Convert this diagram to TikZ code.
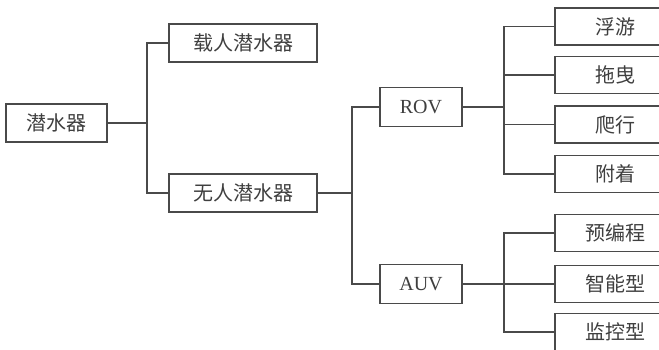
\documentclass[tikz,border=0pt]{standalone}
\usepackage{fontspec}
\setmainfont{Liberation Serif}
\newfontfamily\cjk{Noto Sans CJK SC}
\usetikzlibrary{positioning}
\definecolor{ink}{HTML}{4A4A4A}

\begin{document}
\begin{tikzpicture}[x=1pt,y=-1pt,
  box/.style={draw=ink,line width=1.6pt,text=ink!85!black,inner sep=0pt,minimum height=38pt,font=\cjk\fontsize{20}{23}\selectfont},
  ltr/.style={box,font=\fontsize{20}{23}\selectfont},
  leaf/.style={box,minimum width=120pt,minimum height=37pt},
  link/.style={draw=ink,line width=1.2pt}]
\useasboundingbox(0,0)rectangle(659,350);\clip(0,0)rectangle(659,350);
% left part
\node[box,minimum width=101pt](root)at(56.5,123){潜水器};
\node[box,minimum width=148pt](manned)at(243,43){载人潜水器};
\node[box,minimum width=148pt](unmanned)at(243,193){无人潜水器};
\coordinate(j1)at(147,123);
\draw[link](root)--(j1);\draw[link](manned.west)-|(j1)|-(unmanned.west);
% middle
\node[ltr,minimum width=82pt,minimum height=39pt](rov)at(421,107){ROV};
\node[ltr,minimum width=82pt,minimum height=39pt](auv)at(421,284){AUV};
\coordinate(j2)at(352,193);
\draw[link](unmanned)--(j2);\draw[link](rov.west)-|(j2)|-(auv.west);
% right part
\node[leaf](float)at(615,26.5){浮游};
\node[leaf](tow)at(615,75){拖曳};
\node[leaf](crawl)at(615,124.5){爬行};
\node[leaf](attach)at(615,174){附着};
\node[leaf](prog)at(615,233){预编程};
\node[leaf](smart)at(615,284){智能型};
\node[leaf](watch)at(615,332){监控型};
\coordinate(j3)at(504,107);\coordinate(j4)at(504,284);
\draw[link](rov)--(j3);\draw[link](float.west)-|(j3)|-(attach.west);
\draw[link](tow.west)--(tow.west-|j3);\draw[link](crawl.west)--(crawl.west-|j3);
\draw[link](auv)--(smart);\draw[link](prog.west)-|(j4)|-(watch.west);
\end{tikzpicture}
\end{document}
